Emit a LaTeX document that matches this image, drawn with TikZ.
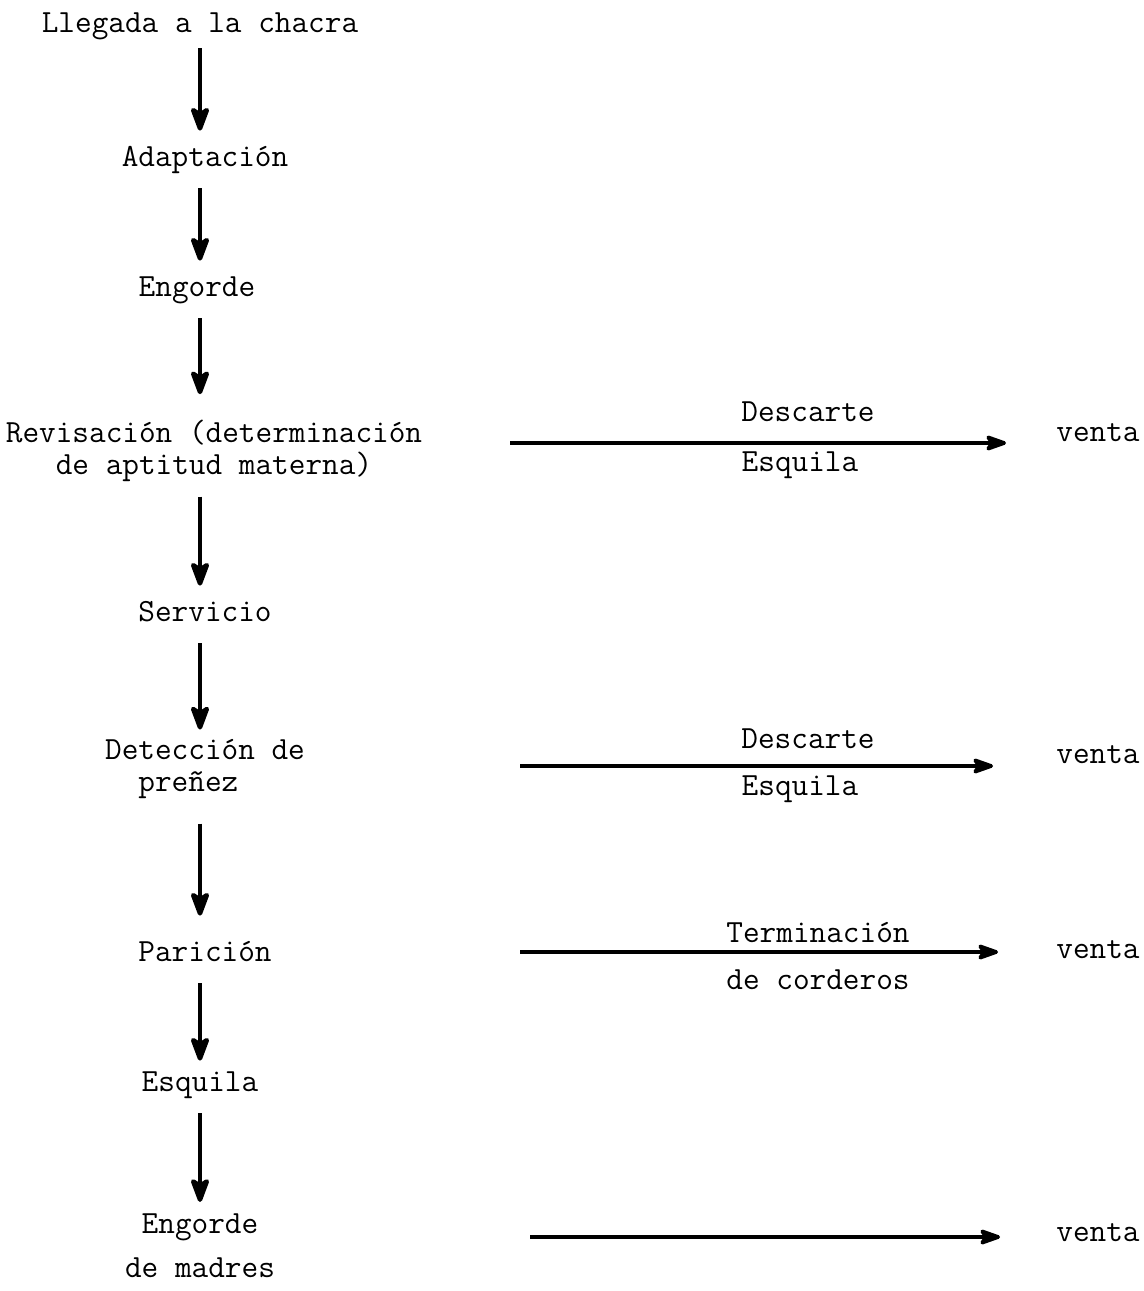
\documentclass[tikz,border=0pt]{standalone}
\usetikzlibrary{arrows.meta}
\usetikzlibrary{positioning}

\tikzset{
  stage/.style={font=\ttfamily\fontsize{18.4}{18.2}\selectfont, align=center,
    inner sep=0pt, anchor=base},
  oneline/.style={stage, text height=0.4cm, text depth=0.14cm},
  flow/.style={line width=0.09cm, -{Stealth[length=0.6cm,width=0.44cm,inset=0.14cm,round]},
    shorten <=0.3cm, shorten >=0.3cm},
  side/.style={line width=0.075cm, -{Stealth[length=0.52cm,width=0.36cm,inset=0.12cm,round]},
    shorten >=1cm}
}

\begin{document}
\begin{tikzpicture}[x=0.02cm,y=-0.02cm]
		\useasboundingbox (0,0) rectangle (1143,1291);
		% stages of the flock
		\node[oneline] (lleg) at (200,33) {Llegada a la chacra};
		\node[oneline] (adap) at (205,166) {Adaptación};
		\node[oneline] (eng) at (197,296) {Engorde};
		\node[stage] (rev) at (214,474) {Revisación (determinación\\de aptitud materna)};
		\node[oneline] (serv) at (205,621) {Servicio};
		\node[stage] (det) at (205,791) {Detección de\\preñez\phantom{xx}};
		\node[oneline] (par) at (205,961) {Parición};
		\node[oneline] (esq) at (200,1091) {Esquila};
		\node[stage] (engm) at (200,1277) {Engorde\\[0.24cm]de madres};
		% vertical flow
		\coordinate (ax) at (200,0);
		\draw[flow, shorten <=0.16cm] (lleg.south -| ax) -- (adap.north -| ax);
		\draw[flow] (adap.south -| ax) -- (eng.north -| ax);
		\draw[flow, shorten >=0.5cm] (eng.south -| ax) -- (rev.north -| ax);
		\draw[flow] (rev.south -| ax) -- (serv.north -| ax);
		\draw[flow, shorten >=0.18cm] (serv.south -| ax) -- (det.north -| ax);
		\draw[flow, shorten <=0.5cm, shorten >=0.5cm] (det.south -| ax) -- (par.north -| ax);
		\draw[flow, shorten >=0.2cm] (par.south -| ax) -- (esq.north -| ax);
		\draw[flow, shorten >=0.22cm] (esq.south -| ax) -- (engm.north -| ax);
		% sales
		\node[oneline, anchor=base west] (v1) at (1056,441) {venta};
		\node[oneline, anchor=base west] (v2) at (1056,763) {venta};
		\node[oneline, anchor=base west] (v3) at (1056,958) {venta};
		\node[oneline, anchor=base west] (v4) at (1056,1241) {venta};
		\coordinate (s1) at (510,443);
		\coordinate (s2) at (520,766);
		\coordinate (s3) at (520,952);
		\coordinate (s4) at (530,1237);
		\draw[side] (s1) -- (v1.west |- s1);
		\draw[side, shorten >=1.26cm] (s2) -- (v2.west |- s2);
		\draw[side, shorten >=1.16cm] (s3) -- (v3.west |- s3);
		\draw[side, shorten >=1.12cm] (s4) -- (v4.west |- s4);
		% labels on the sale arrows
		\node[oneline] (desc1) at (808,421) {Descarte};
		\node[oneline] (esq1) at (800,471) {Esquila};
		\node[oneline] (desc2) at (808,748) {Descarte};
		\node[oneline] (esq2) at (800,795) {Esquila};
		\node[oneline] (term) at (818,942) {Terminación};
		\node[oneline] (cord) at (818,989) {de corderos};
\end{tikzpicture}
\end{document}
